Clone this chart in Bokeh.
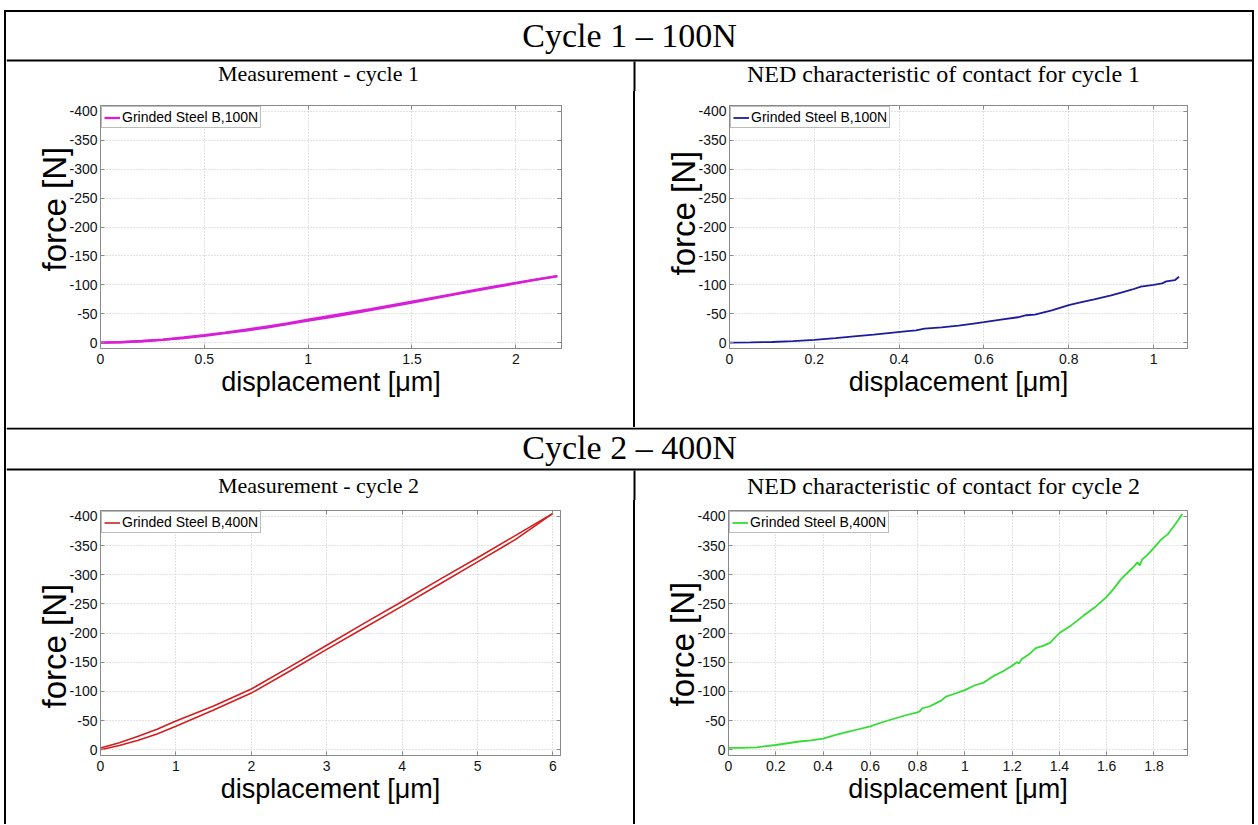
from bokeh.plotting import figure
from bokeh.layouts import column, row
from bokeh.models import (Range1d, FixedTicker, Label, Title, BoxAnnotation, Spacer,
                          LinearAxis)
from bokeh.embed import file_html
from bokeh.resources import INLINE

# ---------------- data ----------------
header_1 = "Cycle 1 \u2013 100N"
header_2 = "Cycle 2 \u2013 400N"
subtitles = ["Measurement - cycle 1", "NED characteristic of contact for cycle 1",
             "Measurement - cycle 2", "NED characteristic of contact for cycle 2"]
legend_labels = ["Grinded Steel B,100N", "Grinded Steel B,100N",
                 "Grinded Steel B,400N", "Grinded Steel B,400N"]
x_label = "displacement [\u03bcm]"
y_label = "force [N]"

y_ticks = [-400, -350, -300, -250, -200, -150, -100, -50, 0]
y_tick_labels = ["-400", "-350", "-300", "-250", "-200", "-150", "-100", "-50", "0"]

x_ticks_1 = [0, 0.5, 1, 1.5, 2]
x_tick_labels_1 = ["0", "0.5", "1", "1.5", "2"]
x_ticks_2 = [0, 0.2, 0.4, 0.6, 0.8, 1]
x_tick_labels_2 = ["0", "0.2", "0.4", "0.6", "0.8", "1"]
x_ticks_3 = [0, 1, 2, 3, 4, 5, 6]
x_tick_labels_3 = ["0", "1", "2", "3", "4", "5", "6"]
x_ticks_4 = [0, 0.2, 0.4, 0.6, 0.8, 1, 1.2, 1.4, 1.6, 1.8]
x_tick_labels_4 = ["0", "0.2", "0.4", "0.6", "0.8", "1", "1.2", "1.4", "1.6", "1.8"]

# Measurement, cycle 1 (loading / unloading)
m1_disp = [0, 0.1, 0.2, 0.3, 0.4, 0.5, 0.6, 0.7, 0.8, 0.9, 1.0, 1.1,
           1.2, 1.3, 1.4, 1.5, 1.6, 1.7, 1.8, 1.9, 2.0, 2.1, 2.2]
m1_load = [0, -0.8, -2.5, -4.8, -8, -12, -16.5, -21, -26, -32, -38, -44,
           -50, -56.5, -63, -69.5, -76, -83, -89.5, -96, -102.5, -109, -115]
m1_unload = [0, -1, -3, -5.5, -9, -13, -17.5, -22.5, -28, -33.5, -40, -46,
             -52, -58, -64.5, -71, -77.5, -84, -91, -97.5, -103.5, -109.5, -115]

# NED characteristic, cycle 1
n1_disp = [0, 0.05, 0.1, 0.15, 0.2, 0.25, 0.3, 0.34, 0.38, 0.42, 0.44, 0.46,
           0.5, 0.54, 0.58, 0.6, 0.64, 0.68, 0.7, 0.72, 0.76, 0.8, 0.83, 0.86,
           0.9, 0.93, 0.95, 0.97, 1.0, 1.02, 1.03, 1.05, 1.06]
n1_force = [0, -0.5, -1.2, -2.8, -5, -8, -11.5, -14, -17, -20, -21.5, -24.5,
            -26.5, -29.5, -33.5, -35.5, -40, -44, -47.5, -48.5, -56, -65, -70, -75,
            -82, -88, -92, -97, -100, -102.5, -106, -108, -114]

# Measurement, cycle 2 (loading / unloading)
m2_disp = [0, 0.25, 0.5, 0.75, 1, 1.5, 2, 2.5, 3, 3.5, 4, 4.5, 5, 5.5, 6]
m2_upper = [-3, -12, -23, -35, -49, -75, -104, -141, -179, -217, -254, -292, -329, -367, -405]
m2_lower = [0, -7, -16, -27, -40, -68, -97, -134, -172, -209, -246, -284, -322, -360, -405]

# NED characteristic, cycle 2
n2_disp = [0, 0.05, 0.12, 0.2, 0.25, 0.3, 0.35, 0.4, 0.45, 0.5, 0.55, 0.6,
           0.65, 0.7, 0.75, 0.8, 0.81, 0.82, 0.85, 0.87, 0.9, 0.92, 0.95, 1.0,
           1.04, 1.08, 1.12, 1.16, 1.2, 1.22, 1.23, 1.24, 1.27, 1.3, 1.33, 1.36,
           1.4, 1.45, 1.5, 1.55, 1.6, 1.63, 1.66, 1.7, 1.72, 1.73, 1.74, 1.75,
           1.77, 1.8, 1.83, 1.86, 1.88, 1.9, 1.92]
n2_force = [-3, -3, -4, -8, -11, -14, -16, -19, -25, -30, -35, -40,
            -47, -53, -59, -64, -66, -71, -74, -78, -84, -91, -95, -102,
            -110, -115, -126, -134, -144, -150, -148, -155, -163, -174, -178, -183,
            -200, -213, -229, -244, -262, -276, -292, -308, -316, -321, -316, -326,
            -333, -346, -360, -370, -381, -392, -404]

colors = ["#d81fd8", "#1c1c9c", "#d41e1e", "#33dd33"]

Y_BOTTOM, Y_TOP = 10, -410
SANS = "Liberation Sans"
SERIF = "Liberation Serif"
TABLE_W = 1246
AX_GRAY = "#8a8a8a"


def mirror_axis(ticks):
    """Unlabelled axis that only carries inward ticks (MATLAB box style)."""
    return LinearAxis(ticker=FixedTicker(ticks=ticks), axis_line_color=AX_GRAY,
                      major_tick_line_color=AX_GRAY, major_tick_in=4,
                      major_tick_out=0, minor_tick_line_color=None,
                      major_label_text_color=None, major_label_text_font_size="1px",
                      major_label_standoff=0)


def make_plot(w, h, borders, x_end, xticks, xlabels, ylab_offset):
    bl, br, bt, bb = borders
    p = figure(width=w, height=h, x_range=Range1d(0, x_end),
               y_range=Range1d(Y_BOTTOM, Y_TOP), toolbar_location=None,
               output_backend="svg", min_border_left=bl, min_border_right=br,
               min_border_top=bt, min_border_bottom=bb)
    p.outline_line_color = AX_GRAY
    p.outline_line_width = 1
    p.background_fill_color = "white"
    p.border_fill_color = "white"

    p.xaxis.ticker = FixedTicker(ticks=xticks)
    p.xaxis.major_label_overrides = dict(zip(xticks, xlabels))
    p.yaxis.ticker = FixedTicker(ticks=y_ticks)
    p.yaxis.major_label_overrides = dict(zip(y_ticks, y_tick_labels))
    for ax in (p.xaxis, p.yaxis):
        ax.axis_line_color = AX_GRAY
        ax.major_tick_line_color = AX_GRAY
        ax.major_tick_in = 4
        ax.major_tick_out = 0
        ax.minor_tick_line_color = None
        ax.major_label_text_font = SANS
        ax.major_label_text_font_size = "14px"
        ax.major_label_text_color = "#111111"
        ax.major_label_standoff = 3
    p.xaxis.major_label_standoff = 5
    p.xaxis.axis_label = x_label
    p.xaxis.axis_label_text_font = SANS
    p.xaxis.axis_label_text_font_style = "normal"
    p.xaxis.axis_label_text_color = "black"
    p.xaxis.axis_label_text_font_size = "27px"
    p.xaxis.axis_label_standoff = 0
    p.grid.grid_line_color = "#c4c4c4"
    p.grid.grid_line_dash = "1 2"
    p.grid.grid_line_width = 1

    p.add_layout(mirror_axis(y_ticks), "right")
    p.add_layout(mirror_axis(xticks), "above")

    p.add_layout(Title(text=y_label, align="left", offset=ylab_offset,
                       standoff=-12, text_font=SANS,
                       text_font_size="33px", text_font_style="normal",
                       text_color="black"), "left")
    return p


def style_legend(p):
    lg = p.legend[0]
    lg.location = "top_left"
    lg.margin = 1
    lg.padding = 2
    lg.spacing = 0
    lg.border_line_color = "#7a7a7a"
    lg.border_line_width = 1
    lg.background_fill_color = "white"
    lg.background_fill_alpha = 1
    lg.label_text_font = SANS
    lg.label_text_font_size = "14px"
    lg.label_text_color = "black"
    lg.glyph_width = 16
    lg.glyph_height = 15
    lg.label_height = 15
    lg.label_standoff = 2


def band(h, header, header_y, sub_left, sub_right, sub_y, rule_y, top_rule=False):
    """Full-width strip holding a table header row, the rule below it and
    the two sub-headings (pixel coordinates, y measured from the bottom)."""
    p = figure(width=TABLE_W, height=h, x_range=Range1d(0, TABLE_W),
               y_range=Range1d(0, h), x_axis_type=None, y_axis_type=None,
               toolbar_location=None, output_backend="svg", min_border=0,
               outline_line_color=None)
    p.background_fill_color = "white"
    p.border_fill_color = "white"
    p.add_layout(BoxAnnotation(left=0, right=TABLE_W, bottom=rule_y, top=rule_y + 2,
                               fill_color="black", fill_alpha=1, line_color=None))
    if top_rule:
        p.add_layout(BoxAnnotation(left=0, right=TABLE_W, bottom=h - 2, top=h,
                                   fill_color="black", fill_alpha=1, line_color=None))
    p.add_layout(BoxAnnotation(left=627, right=629, bottom=0, top=rule_y,
                               fill_color="black", fill_alpha=1, line_color=None))
    p.add_layout(Label(x=623, y=header_y, text=header, text_align="center",
                       text_baseline="middle", text_font=SERIF,
                       text_font_size="34px", text_color="black"))
    p.add_layout(Label(x=312, y=sub_y, text=sub_left, text_align="center",
                       text_baseline="middle", text_font=SERIF,
                       text_font_size="22px", text_color="black"))
    p.add_layout(Label(x=937, y=sub_y, text=sub_right, text_align="center",
                       text_baseline="middle", text_font=SERIF,
                       text_font_size="24px", text_color="black"))
    return p


def divider(h):
    return Spacer(width=2, height=h, styles={"background-color": "black"})


# band 1: page y 12..91
b1 = band(79, header_1, 56, subtitles[0], subtitles[1], 18, 30)
# plots row 1: page y 91..427
f1 = make_plot(627, 336, (94, 72, 14, 75), 2.22, x_ticks_1, x_tick_labels_1, 77)
f1.line(m1_disp, m1_unload, line_color=colors[0], line_width=2.3)
f1.line(m1_disp, m1_load, line_color=colors[0], line_width=2.3,
        legend_label=legend_labels[0])
style_legend(f1)

f2 = make_plot(617, 336, (94, 65, 11, 79), 1.08, x_ticks_2, x_tick_labels_2, 73)
f2.line(n1_disp, n1_force, line_color=colors[1], line_width=1.8,
        legend_label=legend_labels[1])
style_legend(f2)

# band 2: page y 427..500
b2 = band(73, header_2, 53, subtitles[2], subtitles[3], 15, 30, top_rule=True)
# plots row 2: page y 500..824
f3 = make_plot(627, 324, (94, 73, 10, 69), 6.1, x_ticks_3, x_tick_labels_3, 47)
f3.line(m2_disp, m2_upper, line_color=colors[2], line_width=1.6)
f3.line(m2_disp, m2_lower, line_color=colors[2], line_width=1.6,
        legend_label=legend_labels[2])
style_legend(f3)

f4 = make_plot(617, 324, (93, 65, 10, 69), 1.942, x_ticks_4, x_tick_labels_4, 49)
f4.line(n2_disp, n2_force, line_color=colors[3], line_width=1.8,
        legend_label=legend_labels[3])
style_legend(f4)

r1 = row(f1, divider(336), f2, spacing=0, styles={"background-color": "white"})
r2 = row(f3, divider(324), f4, spacing=0, styles={"background-color": "white"})
layout = column(b1, r1, b2, r2, spacing=0,
                styles={"background-color": "white", "border-style": "solid",
                        "border-color": "black", "border-width": "2px 2px 0px 2px",
                        "margin-left": "4px", "margin-top": "10px"})

open("out.html", "w").write(file_html(layout, INLINE))
